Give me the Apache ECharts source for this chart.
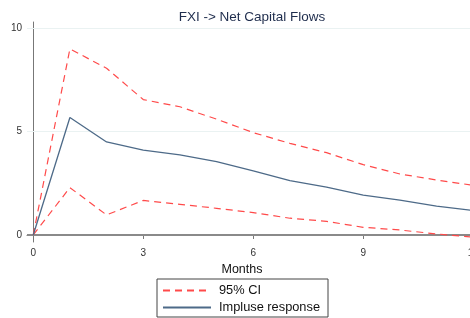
<!DOCTYPE html>
<html>
<head>
<meta charset="utf-8">
<script src="https://cdn.jsdelivr.net/npm/echarts@6/dist/echarts.min.js"></script>
<style>html,body{margin:0;padding:0;background:#fff}#c{width:470px;height:318px}</style>
</head>
<body>
<div id="c"></div>
<script>
const months = [0,1,2,3,4,5,6,7,8,9,10,11,12];
const upperCI = [0, 9.0, 8.06, 6.55, 6.2, 5.6, 4.95, 4.43, 3.98, 3.4, 2.95, 2.66, 2.4];
const impulse = [0, 5.68, 4.5, 4.1, 3.87, 3.55, 3.1, 2.63, 2.31, 1.93, 1.69, 1.4, 1.18];
const lowerCI = [0, 2.29, 0.97, 1.67, 1.48, 1.29, 1.08, 0.81, 0.66, 0.37, 0.24, 0.05, -0.11];
const xTicks = [0, 3, 6, 9, 12];
const yTicks = [0, 5, 10];

const font = 'Liberation Sans, Arial, sans-serif';
const pairs = arr => months.map((m, i) => [m, arr[i]]);
const red = '#ff4a4a';
const blue = '#4d6a88';

const chart = echarts.init(document.getElementById('c'), null, {renderer: 'canvas'});
chart.setOption({
  animation: false,
  backgroundColor: '#ffffff',
  title: {
    text: 'FXI -> Net Capital Flows',
    left: 247, top: 5, textAlign: 'center',
    textStyle: {fontFamily: font, fontSize: 13.5, fontWeight: 'normal', color: '#1f2d4d'}
  },
  grid: {left: 27, width: 451, top: 22, height: 220, containLabel: false, outerBoundsMode: 'none'},
  xAxis: {
    type: 'value', min: -0.17, max: 12.13,
    name: 'Months', nameLocation: 'middle', nameGap: 21,
    nameTextStyle: {fontFamily: font, fontSize: 12.5, color: '#111', padding: [0, 21, 0, 0]},
    axisLine: {show: true, lineStyle: {color: '#777', width: 1}},
    axisTick: {show: true, length: 4, lineStyle: {color: '#777'}, customValues: xTicks},
    axisLabel: {fontFamily: font, fontSize: 10, color: '#333', margin: 6, customValues: xTicks},
    splitLine: {show: false}
  },
  yAxis: {
    type: 'value', min: -0.34, max: 10.3,
    axisLine: {show: true, lineStyle: {color: '#777', width: 1}},
    axisTick: {show: true, length: 4, lineStyle: {color: '#777'}, customValues: yTicks},
    axisLabel: {fontFamily: font, fontSize: 10, color: '#333', margin: 5, customValues: yTicks},
    splitLine: {show: false}
  },
  legend: {
    orient: 'vertical', left: 157, top: 279,
    borderColor: '#444', borderWidth: 1, padding: [5, 8, 3, 5],
    itemWidth: 48, itemHeight: 12, itemGap: 4,
    itemStyle: {opacity: 0},
    textStyle: {fontFamily: font, fontSize: 12.8, color: '#111', padding: [0, 0, 0, 3]},
    data: ['95% CI', 'Impluse response']
  },
  series: [
    {
      name: 'ref', type: 'line', data: [], symbol: 'none', z: 1,
      markLine: {
        silent: true, symbol: 'none', label: {show: false}, z: 1,
        data: [
          {yAxis: 0, lineStyle: {color: '#8a8a8a', width: 2, type: 'solid'}},
          {yAxis: 5, lineStyle: {color: '#eaf2f2', width: 1, type: 'solid'}},
          {yAxis: 10, lineStyle: {color: '#eaf2f2', width: 1, type: 'solid'}}
        ]
      }
    },
    {
      name: '95% CI', type: 'line', data: pairs(upperCI), symbol: 'none', clip: false,
      lineStyle: {color: red, width: 1.2, type: [7, 5]}, itemStyle: {color: red}, z: 3
    },
    {
      name: '95% CI', type: 'line', data: pairs(lowerCI), symbol: 'none', clip: false,
      lineStyle: {color: red, width: 1.2, type: [7, 5]}, itemStyle: {color: red}, z: 3
    },
    {
      name: 'Impluse response', type: 'line', data: pairs(impulse), symbol: 'none', clip: false,
      lineStyle: {color: blue, width: 1.3}, itemStyle: {color: blue}, z: 3
    }
  ]
});
</script>
</body>
</html>
